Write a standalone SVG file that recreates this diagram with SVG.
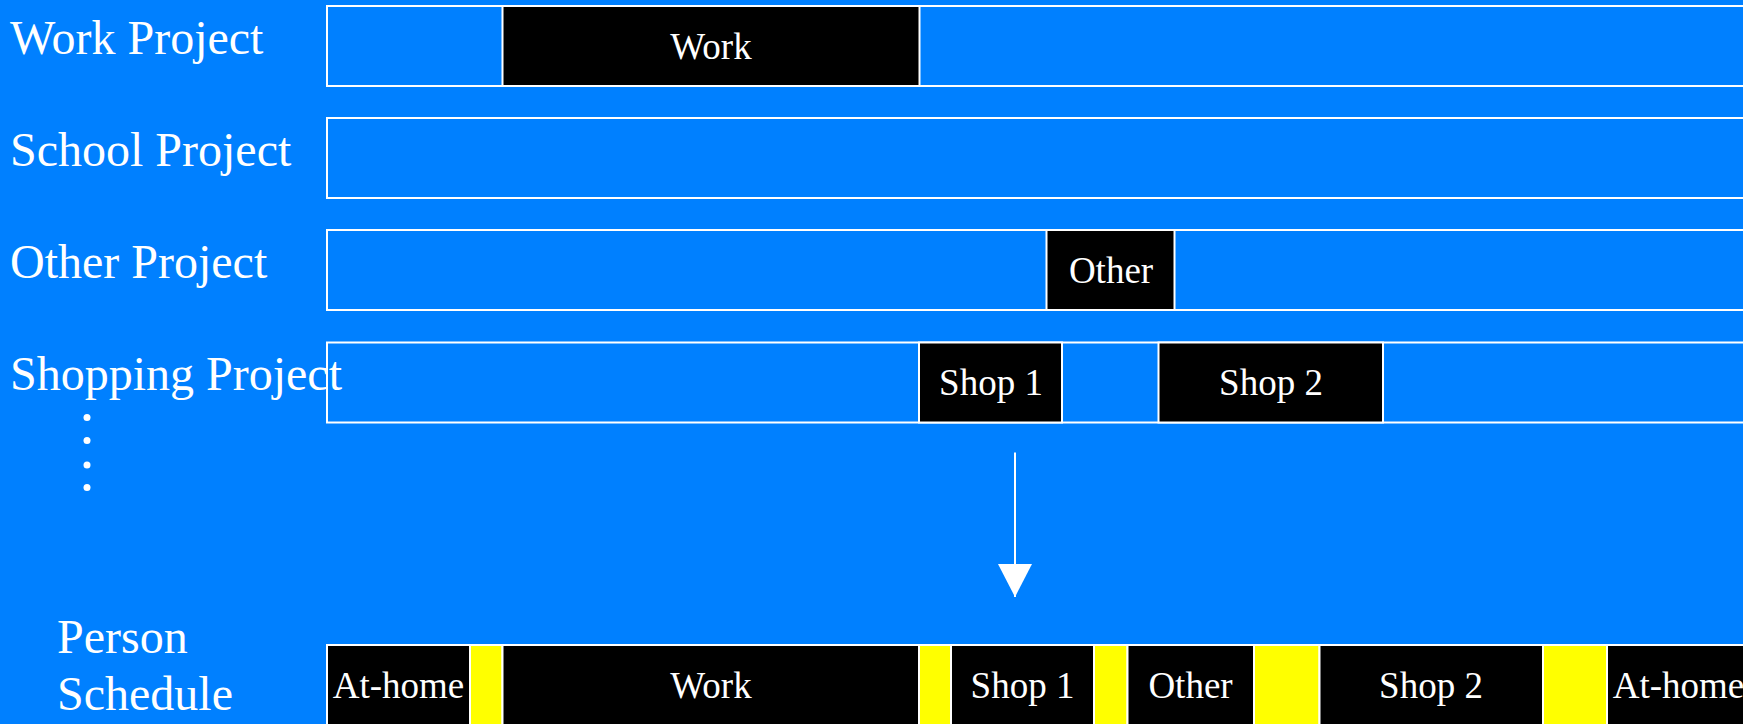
<svg xmlns="http://www.w3.org/2000/svg" width="1743" height="724" viewBox="0 0 1743 724">
  <style>
    .lbl { font-family: "Liberation Serif", "Times New Roman", serif; font-size: 48px; fill: #ffffff; }
    .txt { font-family: "Liberation Serif", "Times New Roman", serif; font-size: 37px; fill: #ffffff; text-anchor: middle; }
    .track { fill: #0080ff; stroke: #ffffff; stroke-width: 2; }
    .act { fill: #000000; stroke: #ffffff; stroke-width: 2; }
    .gap { fill: #ffff00; stroke: #ffffff; stroke-width: 2; }
    .dot { fill: #ffffff; }
  </style>
  <defs>
    <!-- triangular head, drawn along +x so orient="auto" turns it with the line -->
    <marker id="arrowhead" markerUnits="userSpaceOnUse" markerWidth="34" markerHeight="34" refX="33" refY="17" orient="auto" viewBox="0 0 34 34">
      <polygon points="0,0 33,17 0,34" fill="#ffffff"/>
    </marker>
  </defs>

  <!-- background -->
  <rect x="0" y="0" width="1743" height="724" fill="#0080ff"/>

  <!-- project rows -->
  <g id="work-project">
    <text class="lbl" x="10" y="54">Work Project</text>
    <rect class="track" x="327" y="6" width="1430" height="80"/>
    <rect class="act" x="502.5" y="6" width="417" height="80"/>
    <text class="txt" x="711" y="59">Work</text>
  </g>

  <g id="school-project">
    <text class="lbl" x="10" y="166">School Project</text>
    <rect class="track" x="327" y="118" width="1430" height="80"/>
  </g>

  <g id="other-project">
    <text class="lbl" x="10" y="278">Other Project</text>
    <rect class="track" x="327" y="230" width="1430" height="80"/>
    <rect class="act" x="1046.5" y="230" width="128" height="80"/>
    <text class="txt" x="1111" y="283">Other</text>
  </g>

  <g id="shopping-project">
    <rect class="track" x="327" y="342.5" width="1430" height="80"/>
    <rect class="act" x="919" y="342.5" width="143" height="80"/>
    <text class="txt" x="991" y="395">Shop 1</text>
    <rect class="act" x="1158.5" y="342.5" width="224.5" height="80"/>
    <text class="txt" x="1271" y="395">Shop 2</text>
    <text class="lbl" x="10" y="390">Shopping Project</text>
  </g>

  <g id="more-projects">
    <circle class="dot" cx="87" cy="417.5" r="3.5"/>
    <circle class="dot" cx="87" cy="440.5" r="3.5"/>
    <circle class="dot" cx="87" cy="465" r="3.5"/>
    <circle class="dot" cx="87" cy="487.5" r="3.5"/>
  </g>

  <!-- merge arrow -->
  <g id="connectors">
    <line x1="1015" y1="452.5" x2="1015" y2="597" stroke="#ffffff" stroke-width="2" marker-end="url(#arrowhead)"/>
  </g>

  <!-- combined daily schedule -->
  <g id="person-schedule">
    <text class="lbl" x="57" y="653">Person</text>
    <text class="lbl" x="57" y="710">Schedule</text>
    <rect class="act" x="327" y="645" width="143" height="90"/>
    <text class="txt" x="398.5" y="698">At-home</text>
    <rect class="gap" x="470" y="645" width="32.5" height="90"/>
    <rect class="act" x="502.5" y="645" width="416.5" height="90"/>
    <text class="txt" x="711" y="698">Work</text>
    <rect class="gap" x="919" y="645" width="32" height="90"/>
    <rect class="act" x="951" y="645" width="143" height="90"/>
    <text class="txt" x="1022.5" y="698">Shop 1</text>
    <rect class="gap" x="1094" y="645" width="33.5" height="90"/>
    <rect class="act" x="1127.5" y="645" width="126.5" height="90"/>
    <text class="txt" x="1190.5" y="698">Other</text>
    <rect class="gap" x="1254" y="645" width="65.5" height="90"/>
    <rect class="act" x="1319.5" y="645" width="223.5" height="90"/>
    <text class="txt" x="1431" y="698">Shop 2</text>
    <rect class="gap" x="1543" y="645" width="64" height="90"/>
    <rect class="act" x="1607" y="645" width="143" height="90"/>
    <text class="txt" x="1678.5" y="698">At-home</text>
  </g>
</svg>
